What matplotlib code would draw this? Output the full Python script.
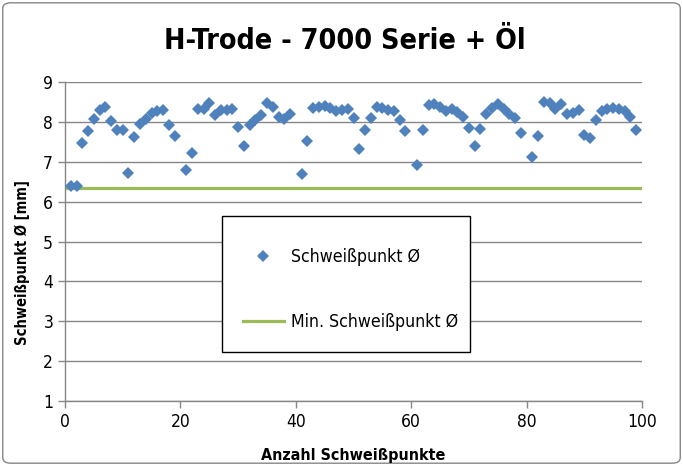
import matplotlib
matplotlib.use("Agg")
import matplotlib.pyplot as plt
from matplotlib.patches import FancyBboxPatch, Rectangle

plt.rcParams['font.family'] = ['Liberation Sans Narrow', 'DejaVu Sans']
plt.rcParams['font.stretch'] = 'condensed'

title = "H-Trode - 7000 Serie + Öl"
x_label = "Anzahl Schweißpunkte"
y_label = "Schweißpunkt Ø [mm]"
series_name = "Schweißpunkt Ø"
min_name = "Min. Schweißpunkt Ø"

x_points = [1, 2, 3, 4, 5, 6, 7, 8, 9, 10, 11, 12, 13, 14, 15, 16, 17, 18, 19,
            21, 22, 23, 24, 25, 26, 27, 28, 29, 30, 31, 32, 33, 34, 35, 36, 37, 38, 39,
            41, 42, 43, 44, 45, 46, 47, 48, 49, 50, 51, 52, 53, 54, 55, 56, 57, 58, 59,
            61, 62, 63, 64, 65, 66, 67, 68, 69, 70, 71, 72, 73, 74, 75, 76, 77, 78, 79,
            81, 82, 83, 84, 85, 86, 87, 88, 89, 90, 91, 92, 93, 94, 95, 96, 97, 98, 99]
diameters = [6.40, 6.40, 7.48, 7.76, 8.08, 8.30, 8.38, 8.02, 7.79, 7.79, 6.72, 7.62, 7.95, 8.07, 8.22, 8.28, 8.30, 7.93, 7.64,
             6.79, 7.23, 8.32, 8.33, 8.47, 8.18, 8.30, 8.31, 8.33, 7.87, 7.40, 7.93, 8.05, 8.17, 8.48, 8.37, 8.13, 8.07, 8.19,
             6.69, 7.53, 8.34, 8.38, 8.40, 8.34, 8.28, 8.29, 8.32, 8.09, 7.32, 7.80, 8.10, 8.38, 8.34, 8.30, 8.27, 8.04, 7.76,
             6.93, 7.80, 8.42, 8.44, 8.38, 8.27, 8.32, 8.26, 8.13, 7.85, 7.40, 7.83, 8.21, 8.34, 8.44, 8.32, 8.21, 8.10, 7.72,
             7.13, 7.64, 8.50, 8.47, 8.32, 8.45, 8.21, 8.23, 8.30, 7.68, 7.60, 8.04, 8.27, 8.32, 8.36, 8.33, 8.27, 8.12, 7.79]
min_x = [0, 100]
min_diameter = [6.35, 6.35]

x_ticks = [0, 20, 40, 60, 80, 100]
y_ticks = [1, 2, 3, 4, 5, 6, 7, 8, 9]

fig = plt.figure(figsize=(6.83, 4.66), dpi=100)
border = FancyBboxPatch((0.004, 0.006), 0.992, 0.988, boxstyle="round,pad=0,rounding_size=0.012",
                        transform=fig.transFigure, facecolor='none', edgecolor='#868686',
                        linewidth=1.0, zorder=-5)
fig.patches.append(border)

ax = fig.add_axes([0.0952, 0.1395, 0.8448, 0.6845])
ax.set_facecolor('none')
ax.set_xlim(0, 100)
ax.set_ylim(1, 9)
ax.set_xticks(x_ticks)
ax.set_yticks(y_ticks)
ax.grid(axis='y', color='#868686', linewidth=1.0)
ax.set_axisbelow(True)
for s in ['top', 'right']:
    ax.spines[s].set_visible(False)
for s in ['left', 'bottom']:
    ax.spines[s].set_color('#868686')
    ax.spines[s].set_linewidth(1.0)
ax.tick_params(axis='both', colors='#868686', labelcolor='black', labelsize=12.5, length=5, width=1.0)
ax.tick_params(axis='x', pad=4)

ax.plot(min_x, min_diameter, color='#9BBB59', linewidth=2.3, label=min_name, zorder=2)
ax.plot(x_points, diameters, linestyle='none', marker='D', markersize=6.3,
        color='#4F81BD', markeredgewidth=0, label=series_name, zorder=3)

fig.text(0.505, 0.913, title, ha='center', va='center', fontsize=20.5, fontweight='bold')
ax.set_xlabel(x_label, fontsize=11.5, fontweight='bold')
ax.xaxis.set_label_coords(0.5, -0.148)
ax.set_ylabel(y_label, fontsize=10.5, fontweight='bold')
ax.yaxis.set_label_coords(-0.06, 0.433)

# legend frame
ax.add_patch(Rectangle((0.272, 0.1536), 0.430, 0.426, transform=ax.transAxes,
                       facecolor='white', edgecolor='black', linewidth=1.0, zorder=4))
handles, labels = ax.get_legend_handles_labels()
leg = ax.legend(handles[::-1], labels[::-1], loc='upper left', bbox_to_anchor=(0.3085, 0.479),
                frameon=False, fontsize=12.7, labelspacing=2.65,
                borderpad=0, handlelength=2.3, handletextpad=0.4, borderaxespad=0)
leg.set_zorder(5)

fig.savefig("out.png", dpi=100)
